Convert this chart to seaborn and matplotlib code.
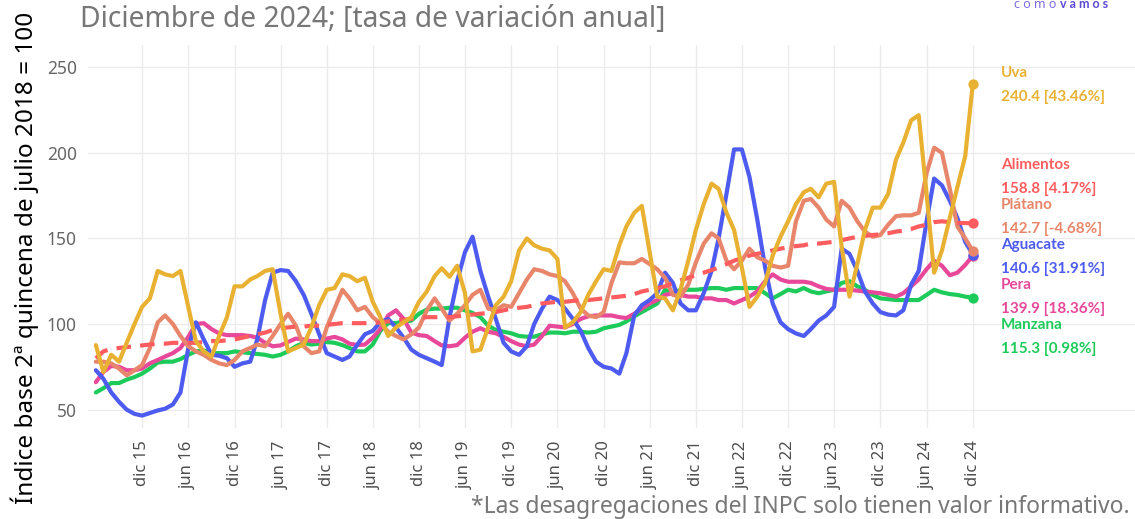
import matplotlib
matplotlib.use("Agg")
import matplotlib.pyplot as plt
import seaborn as sns
import pandas as pd
import numpy as np

# monthly index values, jun 2015 - dic 2024
fechas = pd.date_range("2015-06-01", "2024-12-01", freq="MS")

aguacate = [73, 68, 60, 54.5, 50, 47.5, 46.5, 48, 49.5, 50.5, 53, 60, 86, 101, 91, 82, 81.5, 80, 75,
            77, 78, 91, 114, 130, 131.5, 131, 125, 117, 106, 94, 83, 81, 79, 81, 88, 94, 96, 101,
            103, 98, 92, 85, 82, 80, 78, 76, 104, 125, 142, 151, 131, 116, 103, 89, 84, 82, 87,
            100, 109, 116, 114, 109, 103, 96, 86, 78, 75, 74, 71, 83, 105, 111, 114, 118, 130, 124,
            112, 108, 108, 118, 131, 150, 176, 202, 202, 186, 161, 133, 112, 101, 97, 94.5, 93, 97, 102,
            105, 110, 144, 141, 131, 119, 112, 107, 105.5, 105, 108, 123, 131, 160, 185, 181, 172, 162, 148, 140.6]

platano = [78, 78, 77, 74, 70, 73, 76, 86, 101, 105, 100, 93, 87, 84, 82, 79, 77, 76, 79,
           84, 86, 88, 87, 93, 100, 106, 99, 87, 83, 84, 98, 109, 120, 115, 108, 110, 104, 100.5,
           95.5, 93, 91, 94, 98, 108, 115, 109, 102, 106, 111, 117, 120, 109, 108, 111, 110, 118, 126,
           132, 131, 129, 128, 125, 118, 109, 105, 104, 107, 124, 136, 135.5, 135.5, 138, 135, 132, 127, 117,
           116, 123, 136, 147, 153, 150, 137, 132, 137, 144, 139, 137, 134, 133, 134, 160, 172, 173, 168,
           161, 157, 172, 168, 160, 154, 151, 152, 158, 163, 163.5, 163.5, 165, 188, 203, 200, 179, 157, 150, 142.7]

uva = [87.7, 72, 82, 78, 89, 100, 110, 115, 131, 129, 128, 131, 110, 90, 84, 81, 93, 104, 122,
       122, 126, 128, 131, 132, 106, 84, 86, 88, 98, 111, 120, 121, 129, 128, 125, 127, 113, 104,
       93, 98, 101, 104, 113, 119, 128, 132.6, 127.6, 134, 118, 84, 85, 98, 111, 116, 125, 143, 150,
       146, 144, 143, 138, 98, 101, 107, 117, 125, 132, 131, 146, 157, 165, 169, 142, 116, 115, 108,
       120, 137, 155, 170, 182, 179, 165, 155, 133, 110, 116, 124, 140, 151, 160, 170, 177, 179, 174,
       182, 183, 145, 116, 135, 155, 168, 168, 176, 196, 206, 219, 222, 176, 130, 143, 162, 180, 198, 240.4]

pera = [66, 72, 75.5, 75, 73, 73, 74, 77, 79, 81, 83, 86, 92.5, 100, 100.5, 97, 94.5, 93.5, 93.5,
        93.5, 93, 92, 89, 87, 87.5, 89.5, 91.5, 91, 90, 90, 91.5, 92.5, 91, 88.5, 87.7, 88, 92, 97,
        105, 108, 103, 95, 93.5, 93, 90, 87.5, 87, 87.7, 92, 95.5, 97.5, 95.5, 94.6, 92.5, 90, 88, 87,
        88, 93, 99, 98.5, 98, 100, 103, 104.5, 105, 105, 105, 104, 103.5, 106, 109, 112, 114, 117, 118,
        117, 116, 116, 115, 115, 114, 114, 112, 114, 116, 119, 125, 129, 126, 124.7, 124.7, 124.7, 124, 122,
        120.5, 120, 120, 120, 119.5, 119, 118.5, 118, 117, 116, 118, 122, 126, 132, 137, 134, 128.5, 130, 134.5, 139.9]

manzana = [60, 62.5, 65.5, 65.5, 67.5, 69, 71, 74, 77.5, 78, 78, 79.5, 82, 84, 84.5, 83, 83, 83, 84,
           83.5, 83, 82.5, 82, 81, 82, 84, 87, 89, 88, 88.5, 89.5, 89, 87.7, 86, 84, 84, 88, 96,
           100.5, 100.6, 101.4, 102, 106, 108.5, 109, 109, 109.5, 109.5, 108, 106.5, 104, 99, 96.5, 95.5, 94.6, 93, 92.6,
           92.6, 94, 95, 95, 94.6, 95.5, 95.5, 95, 95.5, 97.5, 98.5, 99.5, 101.5, 104.5, 107, 109.5, 112, 120, 118,
           120, 120, 120, 120.5, 121, 121, 120, 121, 121, 121, 121, 118, 115, 117.5, 120, 119, 121, 119, 118,
           119, 120, 124, 125, 122, 120, 117, 115, 114.5, 114, 114, 114, 114, 117, 120, 118.5, 117.5, 117, 116, 115.3]

alimentos = [80, 84, 85.5, 86, 86.5, 87, 87.5, 88, 88.5, 88.5, 89, 89, 89, 89, 89.5, 90, 90, 90.5, 91,
             92, 93, 94, 95, 96.5, 97.5, 98, 98.5, 98.5, 99, 99, 99.5, 100, 100.5, 100.5, 100.5, 100.5, 100.5, 101,
             101.5, 102, 102.5, 103, 103.5, 104, 104, 104, 104, 104.5, 105, 105.5, 106, 106.5, 107, 108, 109, 109.5, 110,
             111, 112, 112.5, 113, 113, 113.5, 114, 114, 114.5, 115, 115.5, 116, 116.5, 117.5, 119, 120, 121, 122, 124,
             125.5, 127, 128.5, 130, 131.5, 133, 135, 137, 138.5, 140, 141, 142, 143, 144, 145, 145.5, 146, 147, 147,
             147.5, 148, 149, 150, 151, 151.5, 152, 152.4, 153, 154, 154.5, 155.5, 157, 158, 159.5, 160, 159.5, 159, 159, 158.8]

series = ["Manzana", "Pera", "Aguacate", "Plátano", "Alimentos", "Uva"]
valores = [manzana, pera, aguacate, platano, alimentos, uva]
colores = {"Uva": "#E9B132", "Alimentos": "#FF5C5F", "Plátano": "#E8866B",
           "Aguacate": "#4D5BF0", "Pera": "#E8489A", "Manzana": "#1DCB5B"}

# labels on the right, top to bottom
etiquetas = ["Uva", "Alimentos", "Plátano", "Aguacate", "Pera", "Manzana"]
variacion = [43.46, 4.17, -4.68, 31.91, 18.36, 0.98]

df = pd.concat([pd.DataFrame({"fecha": fechas, "valor": v, "serie": s})
                for s, v in zip(series, valores)], ignore_index=True)

sns.set_theme(style="whitegrid")
plt.rcParams["font.family"] = ["Noto Sans", "DejaVu Sans"]

W, H = 1135, 519
fig = plt.figure(figsize=(W / 100, H / 100), dpi=100)
ax = fig.add_axes([88 / W, (H - 428) / H, 1 - 88 / W, (428 - 45) / H])

dashes = {s: "" for s in series}
dashes["Alimentos"] = (3.5, 2.2)
sns.lineplot(data=df, x="fecha", y="valor", hue="serie", style="serie", hue_order=series,
             style_order=series, palette=colores, dashes=dashes, linewidth=3.0,
             legend=False, ax=ax)

ultimos = df.groupby("serie").tail(1)
for _, r in ultimos.iterrows():
    ax.scatter(r["fecha"], r["valor"], s=55, color=colores[r["serie"]], zorder=5, linewidths=0)

ax.set_xlim(pd.Timestamp("2015-05-01"), pd.Timestamp("2026-09-04"))
ax.set_ylim(39.25, 263)
ax.set_yticks([50, 100, 150, 200, 250])
ticks = pd.date_range("2015-12-01", "2024-12-01", freq="6MS")
meses = {6: "jun", 12: "dic"}
ax.set_xticks(ticks)
ax.set_xticklabels([f"{meses[t.month]} {t.strftime('%y')}" for t in ticks], rotation=90)
ax.tick_params(axis="x", labelsize=12, colors="#4D4D4D", pad=3)
ax.tick_params(axis="y", labelsize=12.5, colors="#666666", pad=2)
ax.set_xlabel("")
ax.set_ylabel("")
ax.grid(color="#EBEBEB", linewidth=1)
for sp in ax.spines.values():
    sp.set_visible(False)

ultimo = dict(zip(ultimos["serie"], ultimos["valor"]))
y_nombre = [73, 165, 205, 245, 285, 325]
lbl_font = ["Lato", "DejaVu Sans"]
for nom, var, yp in zip(etiquetas, variacion, y_nombre):
    c = colores[nom]
    fig.text(1001 / W, 1 - yp / H, nom, color=c, fontsize=11, fontweight="bold",
             va="center", family=lbl_font)
    fig.text(1001 / W, 1 - (yp + 24) / H, f"{ultimo[nom]:.1f} [{var:.2f}%]", color=c,
             fontsize=11, fontweight="bold", va="center", family=lbl_font)

fig.text(80 / W, 1 - 20 / H, "Diciembre de 2024; [tasa de variación anual]",
         color="#777777", fontsize=20.3, va="center")
fig.text(25 / W, 1 - 258 / H, "Índice base 2ª quincena de julio 2018 = 100", rotation=90,
         color="black", fontsize=17.5, ha="center", va="center")
fig.text(1130 / W, 1 - 507 / H, "*Las desagregaciones del INPC solo tienen valor informativo.",
         color="#777777", fontsize=16.5, ha="right", va="center")
fig.text(1056 / W, 1 - 8 / H, "c o m o", color="#7A6CE6", fontsize=9, ha="right", va="baseline")
fig.text(1060 / W, 1 - 8 / H, "v a m o s", color="#5B4BD6", fontsize=9,
         fontweight="bold", ha="left", va="baseline", family=lbl_font)

fig.savefig("out.png", dpi=100)
